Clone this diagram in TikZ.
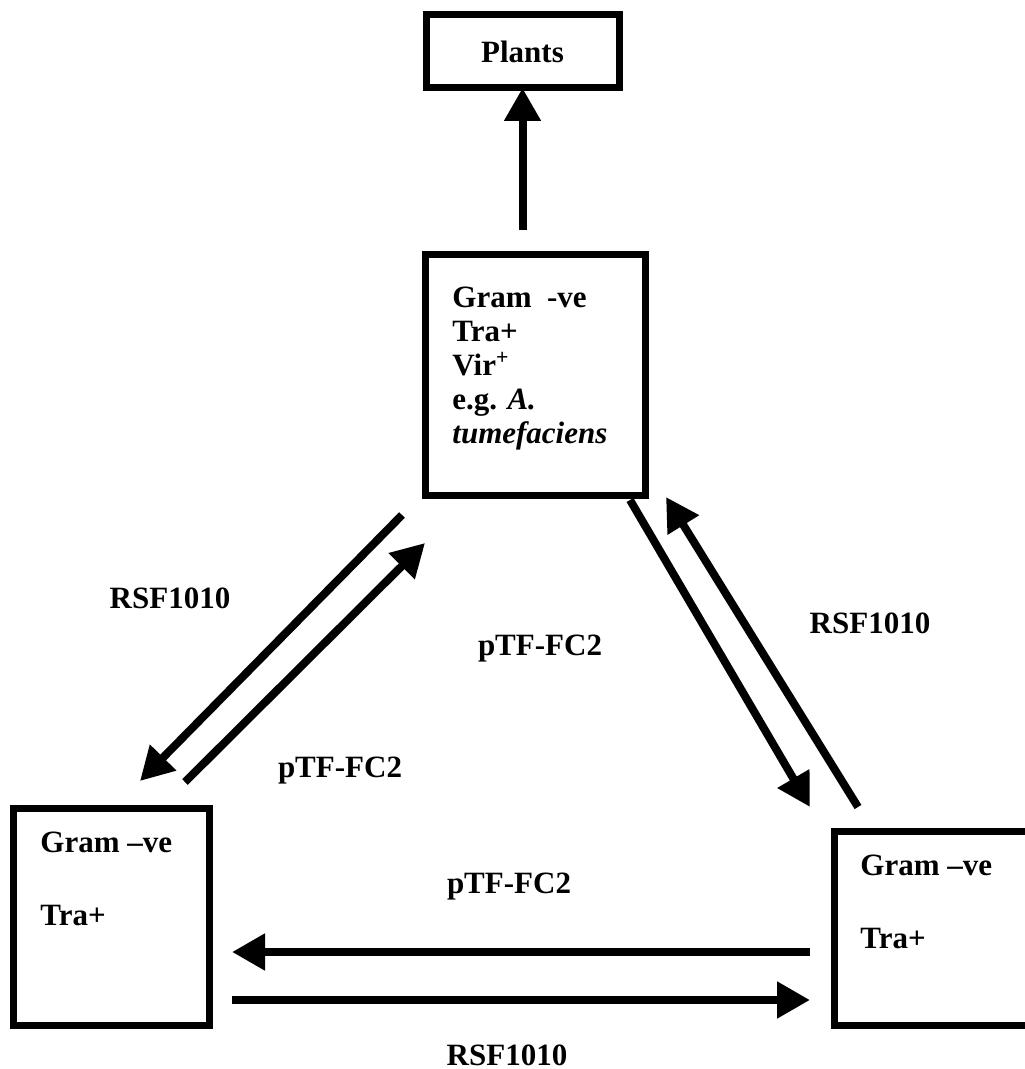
\documentclass[tikz,border=0pt]{standalone}
\usepackage{fontspec}
\setmainfont{Liberation Serif}
\usetikzlibrary{arrows.meta, positioning}

\begin{document}
\begin{tikzpicture}[x=0.5pt, y=-0.5pt, >={Triangle[length=16.5pt, width=17.5pt]},
        box/.style={rectangle, draw, line width=3.5pt, inner sep=0pt, outer sep=0pt, font=\bfseries\fontsize{15.5}{16.9}\selectfont},
        txt/.style={inner sep=0pt, align=left, anchor=base west, font=\bfseries\fontsize{15.5}{16.9}\selectfont},
        lbl/.style={inner sep=0pt, anchor=base, font=\bfseries\fontsize{15.5}{16.9}\selectfont},
        arr/.style={->, line width=4pt}]

    \useasboundingbox (0,0) rectangle (1024,1069);

    % boxes
    \node (plants) [box, minimum width=96.5pt, minimum height=36.5pt] at (522.5,51.5) {Plants};
    \node (mid) [box, minimum width=110pt, minimum height=120pt] at (535,375) {};
    \node (left) [box, minimum width=98pt, minimum height=108.5pt] at (111,916.5) {};
    \node (right) [box, minimum width=98pt, minimum height=97pt] at (932,928) {};

    % box texts (base = last line)
    \node (midtxt) [txt] at ([shift={(27,188)}]mid.north west) {Gram\ \ -ve\\Tra+\\Vir\textsuperscript{+}\\e.g. \textit{A.}\\\textit{tumefaciens}};
    \node (lefttxt) [txt] at ([shift={(27,117)}]left.north west) {Gram --ve\\[19.6pt]Tra+};
    \node (righttxt) [txt] at ([shift={(26,117)}]right.north west) {Gram --ve\\[19.6pt]Tra+};

    % plasmid labels
    \node (rsfA) [lbl] at (170,608) {RSF1010};
    \node (ptfA) [lbl] at (340,777) {pTF-FC2};
    \node (ptfB) [lbl] at (540,655) {pTF-FC2};
    \node (rsfB) [lbl] at (870,633) {RSF1010};
    \node (ptfC) [lbl] at (509,893) {pTF-FC2};
    \node (rsfC) [lbl] at (507,1065) {RSF1010};

    % transfers
    \draw[arr] ([shift={(-12.5,-25)}]mid.north) -- (plants.south);
    \draw[arr] ([shift={(-23,20)}]mid.south west) -- ([shift={(29,-27)}]left.north);
    \draw[arr] ([shift={(74,-26)}]left.north) -- ([shift={(0,48)}]mid.south west);
    \draw[arr] ([shift={(-15,5)}]mid.south east) -- ([shift={(-24,-24)}]right.north west);
    \draw[arr] ([shift={(24,-24)}]right.north west) -- ([shift={(21,2)}]mid.south east);
    \draw[arr] ([shift={(-24,24)}]right.west) -- ([shift={(23,35.5)}]left.east);
    \draw[arr] ([shift={(23,83.5)}]left.east) -- ([shift={(-24,72)}]right.west);
\end{tikzpicture}
\end{document}
